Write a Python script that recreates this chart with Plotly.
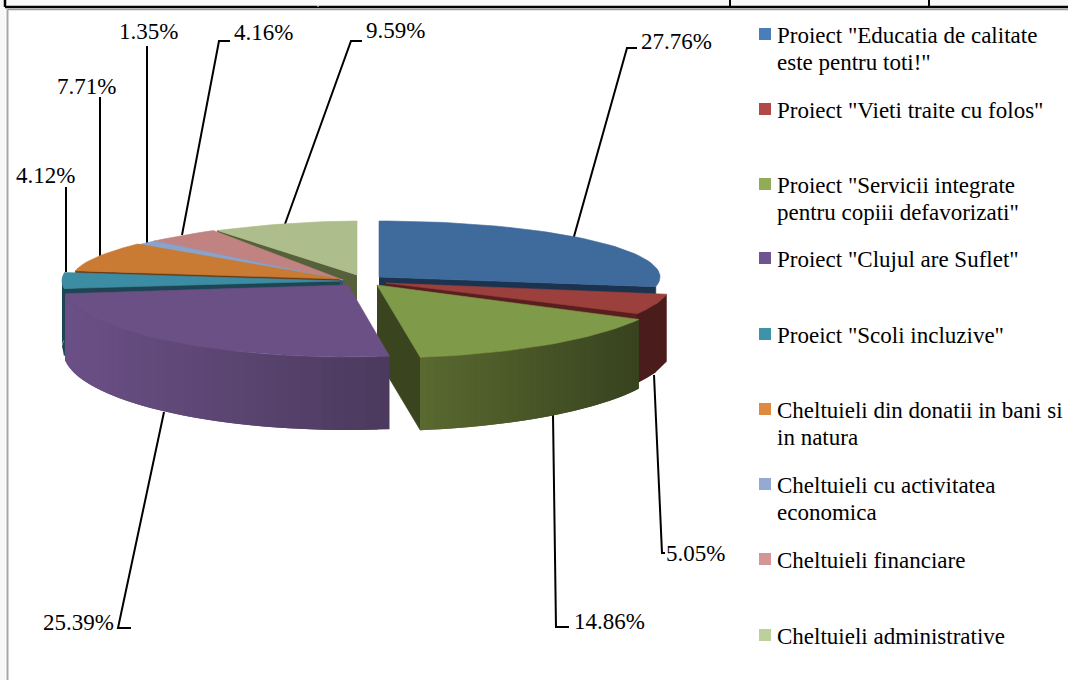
import plotly.graph_objects as go
import math

# ---------- data ----------
categories = [
    'Proiect "Educatia de calitate<br>este pentru toti!"',
    'Proiect "Vieti traite cu folos"',
    'Proiect "Servicii integrate<br>pentru copiii defavorizati"',
    'Proiect "Clujul are Suflet"',
    'Proeict "Scoli incluzive"',
    'Cheltuieli din donatii in bani si<br>in natura',
    'Cheltuieli cu activitatea<br>economica',
    'Cheltuieli financiare',
    'Cheltuieli administrative',
]
values = [27.76, 5.05, 14.86, 25.39, 4.12, 7.71, 1.35, 4.16, 9.59]
value_labels = ['27.76%', '5.05%', '14.86%', '25.39%', '4.12%', '7.71%', '1.35%', '4.16%', '9.59%']

face_colors = ['#3f6a9c', '#9c403d', '#7f9a48', '#6a5084', '#3c8da3', '#c97a33', '#8aa3cc', '#c08382', '#aebd8c']
legend_colors = ['#4a7ebb', '#b14946', '#92ab57', '#6f5590', '#3f93a8', '#de8a40', '#95a9d2', '#d39595', '#bcd09b']
edge_colors = ['#1c3350', '#5a1e1e', '#3a4520', '#4c3a5e', '#1e4553', '#6a3a14', '#3a5070', '#5a3a3a', '#56603a']
wall_left = ['#1c3350', '#4a1c1c', '#5a6a30', '#6b5087', '#1e4553', '#6a3a14', '#3a5070', '#5a3a3a', '#56603a']
wall_right = ['#1c3350', '#4a1c1c', '#38431f', '#4c3a5e', '#1e4553', '#6a3a14', '#3a5070', '#5a3a3a', '#56603a']

# slice layout in the 1068x680 page: apex x, apex y, x radius, y radius, side power
apex_x = [379, 386, 377, 348, 340, 340, 343, 343, 357]
apex_y = [277, 283, 285, 285, 281, 279, 280, 280, 275]
rad_x = [281, 285, 297, 285, 278, 268, 268, 268, 268]
rad_y = [56, 65, 73, 72, 62, 60, 60, 60, 54]
power = [1, 1, 1, 1, 1, 1.35, 1.28, 1.28, 1.15]
draw_order = [8, 7, 6, 5, 4, 0, 1, 2, 3]

label_pos = [(640, 41), (665, 553), (573, 621), (42, 622), (15, 175), (56, 86), (118, 31), (233, 32), (365, 30)]
leaders = [
    [(637, 48), (627, 48), (573, 240)],
    [(665, 553), (662, 553), (654, 375)],
    [(569, 627), (556, 627), (553, 415)],
    [(131, 628), (118, 628), (164, 412)],
    [(66, 187), (66, 272)],
    [(100, 97), (100, 256)],
    [(147, 46), (147, 243)],
    [(230, 41), (219, 41), (182, 235)],
    [(362, 41), (351, 41), (285, 224)],
]
legend_y = [34, 109, 184, 258, 334, 409, 484, 559, 635]

FONT = 'Liberation Serif'
WALL = 66


def hex_mix(a, b, t):
    ca = [int(a[i:i + 2], 16) for i in (1, 3, 5)]
    cb = [int(b[i:i + 2], 16) for i in (1, 3, 5)]
    return '#%02x%02x%02x' % tuple(round(p + (q - p) * t) for p, q in zip(ca, cb))


def rim(i, deg):
    th = math.radians(deg)
    s, c = math.sin(th), math.cos(th)
    px = apex_x[i] + rad_x[i] * math.copysign(abs(s) ** power[i], s)
    py = apex_y[i] - rad_y[i] * c
    return px, py


def depth(deg):
    return WALL + 7 * max(0.0, -math.cos(math.radians(deg)))


fig = go.Figure()


def poly(xs, ys, color, width=0.6):
    fig.add_trace(go.Scatter(x=xs, y=ys, mode='lines', fill='toself', fillcolor=color,
                             line=dict(color=color, width=width), hoverinfo='skip', showlegend=False))


def line(pts, color='#000000', width=2.0):
    fig.add_trace(go.Scatter(x=[p[0] for p in pts], y=[p[1] for p in pts], mode='lines',
                             line=dict(color=color, width=width), hoverinfo='skip', showlegend=False))


starts = []
acc = 0.0
for v in values:
    starts.append(acc)
    acc += v
total = acc

# frame of the surrounding table
poly([0, 5, 5, 0], [0, 0, 680, 680], '#f8f8f8', 0)
poly([5, 1068, 1068, 5], [0, 0, 7, 7], '#f8f8f8', 0)
line([(5, 7), (1068, 7)], '#000000', 2.5)
line([(5, 0), (5, 7)], '#000000', 2.5)
line([(730, 0), (730, 7)], '#000000', 2.0)
line([(929, 0), (929, 7)], '#000000', 2.0)
line([(318, 0), (318, 7)], '#ffffff', 1.0)
line([(8, 9.5), (1068, 9.5)], '#9a9a9a', 1.5)
line([(7.5, 9), (7.5, 680)], '#a8a8a8', 2.0)

# leader lines behind the pie
for pts in leaders:
    line(pts)

for i in draw_order:
    a0 = starts[i] / total * 360
    a1 = (starts[i] + values[i]) / total * 360
    n = max(6, int((a1 - a0) / 2))
    degs = [a0 + (a1 - a0) * k / n for k in range(n + 1)]
    rims = [rim(i, d) for d in degs]

    # cut wall facing the viewer
    cut = a0 if a0 > 180 else a1
    if i != 3:
        ex, ey = rim(i, cut)
        d = depth(cut)
        poly([apex_x[i], ex, ex, apex_x[i]], [apex_y[i], ey, ey + d, apex_y[i] + d], edge_colors[i])

    # outer wall, one overlapping strip per step, shaded across the slice
    mx = max(p[0] for p in rims)
    mn = min(p[0] for p in rims)
    if 1 <= i <= 4:
        steps = 2 if i in (1, 4) else 40
        # paint from the right-hand end so each strip overlaps the seam of the next
        order = range(steps)
        for k in order:
            d0 = a0 + (a1 - a0) * k / steps
            d1 = a0 + (a1 - a0) * min(k + 2, steps) / steps
            p0, p1 = rim(i, d0), rim(i, d1)
            t = (p0[0] - mn) / max(1, mx - mn)
            col = hex_mix(wall_left[i], wall_right[i], t)
            dm = (d0 + d1) / 2
            pm = rim(i, dm)
            poly([p0[0], pm[0], p1[0], p1[0], pm[0], p0[0]],
                 [p0[1], pm[1], p1[1], p1[1] + depth(d1), pm[1] + depth(dm), p0[1] + depth(d0)], col, 0)

    # top face
    poly([apex_x[i]] + [p[0] for p in rims] + [apex_x[i]],
         [apex_y[i]] + [p[1] for p in rims] + [apex_y[i]], face_colors[i])

# value labels
for (lx, ly), txt in zip(label_pos, value_labels):
    fig.add_annotation(x=lx, y=ly, text=txt, showarrow=False, xanchor='left', yanchor='middle',
                       xshift=-1, font=dict(family=FONT, size=23, color='#000000'))

# legend
for y, c, name in zip(legend_y, legend_colors, categories):
    fig.add_trace(go.Scatter(x=[765], y=[y], mode='markers', hoverinfo='skip', showlegend=False,
                             marker=dict(symbol='square', size=12, color=c, line=dict(width=0))))
    for k, part in enumerate(name.split('<br>')):
        fig.add_annotation(x=775, y=y + 1 + 27 * k, text=part, showarrow=False, xanchor='left', yanchor='middle',
                           align='left', font=dict(family=FONT, size=23, color='#000000'))

fig.update_layout(
    width=1068, height=680, margin=dict(l=0, r=0, t=0, b=0),
    paper_bgcolor='#ffffff', plot_bgcolor='#ffffff', showlegend=False,
    xaxis=dict(range=[0, 1068], visible=False, fixedrange=True),
    yaxis=dict(range=[680, 0], visible=False, fixedrange=True),
)
fig.write_html("out.html", config=dict(displayModeBar=False),
               post_script="document.body.style.margin='0';document.body.style.overflow='hidden';")
